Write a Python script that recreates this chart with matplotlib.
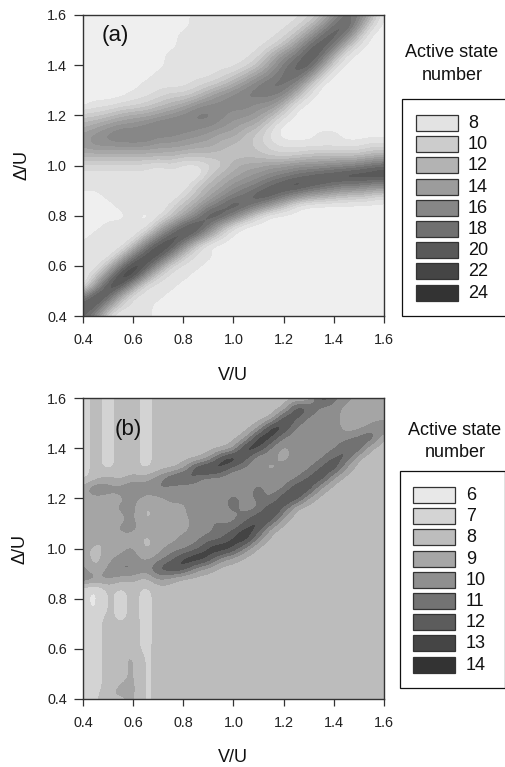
import numpy as np
import matplotlib
matplotlib.use("Agg")
import matplotlib.pyplot as plt
from matplotlib.colors import ListedColormap, BoundaryNorm
from matplotlib.patches import Rectangle

plt.rcParams["font.family"] = ["Liberation Sans", "DejaVu Sans"]

W, H = 506, 767
V_TICKS = [0.4, 0.6, 0.8, 1.0, 1.2, 1.4, 1.6]

# values: rows are delta/U = 1.60 .. 0.40 (step 0.04),
# columns are V/U = 0.40 .. 1.60 (step 0.05)
active_a = np.array([
    [7,7,7,7,7,7,7,7,7,8,8,8,8,8,8,8,8,8,9,11,15,18,17,12,7],
    [7,7,7,7,7,7,7,7,7,8,8,8,8,8,8,8,8,9,11,14,18,20,15,9,7],
    [7,7,7,7,7,7,7,7,8,8,8,8,8,8,8,8,9,11,14,18,20,17,11,7,7],
    [7,7,7,7,7,7,7,7,8,8,8,8,8,8,8,9,11,14,18,20,18,12,8,7,7],
    [7,7,7,7,7,7,7,8,8,8,8,8,8,8,9,12,15,17,20,19,13,8,7,7,7],
    [7,7,7,7,7,7,7,8,8,8,8,8,8,9,11,14,17,19,20,15,9,7,7,7,7],
    [7,7,7,7,7,7,8,8,8,8,8,9,10,12,14,16,18,19,16,10,7,7,7,7,7],
    [7,7,7,7,7,8,8,8,8,9,10,11,13,15,17,18,18,16,11,7,7,7,7,7,7],
    [7,7,7,7,8,8,9,10,10,11,13,15,16,17,17,17,16,12,8,7,7,7,7,7,7],
    [7,8,8,9,9,10,11,12,13,15,16,16,16,16,15,15,12,8,7,7,7,7,7,7,7],
    [10,10,11,12,13,13,14,15,16,17,17,16,15,15,14,12,9,7,7,7,7,7,7,7,7],
    [12,13,14,15,15,16,17,17,17,16,16,15,14,13,12,9,7,7,7,7,7,7,7,7,7],
    [14,15,16,17,17,17,16,16,15,15,14,13,13,11,10,8,7,7,7,8,8,7,7,7,7],
    [14,15,15,15,15,15,14,14,14,13,13,12,11,11,10,9,8,8,8,8,8,8,8,9,9],
    [12,12,12,12,12,12,12,12,11,11,11,11,11,11,11,10,10,10,11,11,11,11,11,12,12],
    [9,9,9,9,9,9,8,9,8,8,9,10,12,13,13,14,14,15,15,15,16,16,17,18,19],
    [8,8,8,8,8,8,8,8,8,7,10,12,13,14,15,16,17,18,19,20,20,21,21,21,21],
    [8,8,8,8,8,8,8,8,7,10,12,13,15,16,17,19,20,21,20,19,18,17,17,16,16],
    [7,7,8,8,8,8,8,7,9,11,13,15,17,18,20,20,18,16,14,13,12,11,11,10,9],
    [7,7,7,8,8,8,7,9,11,13,16,18,20,19,17,14,11,8,7,7,7,7,7,7,7],
    [7,7,7,7,8,7,8,10,13,16,20,20,17,13,9,7,7,7,7,7,7,7,7,7,7],
    [7,7,8,8,8,7,11,15,19,21,18,13,9,7,7,7,7,7,7,7,7,7,7,7,7],
    [7,8,8,8,7,11,16,20,21,18,13,9,7,7,7,7,7,7,7,7,7,7,7,7,7],
    [8,8,8,7,11,17,21,21,16,10,7,7,7,7,7,7,7,7,7,7,7,7,7,7,7],
    [8,8,7,11,17,21,21,16,10,8,8,7,7,7,7,7,7,7,7,7,7,7,7,7,7],
    [8,7,11,17,22,21,15,9,8,8,7,7,7,7,7,7,7,7,7,7,7,7,7,7,7],
    [7,10,16,22,22,15,9,8,8,7,7,7,7,7,7,7,7,7,7,7,7,7,7,7,7],
    [7,14,21,21,14,8,8,8,7,7,7,7,7,7,7,7,7,7,7,7,7,7,7,7,7],
    [16,21,20,13,8,8,8,7,7,7,7,7,7,7,7,7,7,7,7,7,7,7,7,7,7],
    [20,20,14,9,8,8,7,7,7,7,7,7,7,7,7,7,7,7,7,7,7,7,7,7,7],
    [19,16,9,7,8,8,7,7,7,7,7,7,7,7,7,7,7,7,7,7,7,7,7,7,7],
])

active_b = np.array([
    [7,8,7,8,8,7,8,8,8,8,8,8,8,8,8,8,8,8,8,13,11,10,9,9,9],
    [7,8,7,8,8,7,8,8,8,8,8,8,8,8,8,8,8,13,12,10,10,9,9,9,9],
    [7,8,7,8,8,7,8,8,8,8,8,8,8,8,8,8,13,12,10,10,10,9,9,9,9],
    [7,8,7,8,8,7,8,8,8,8,8,8,8,8,9,14,13,10,10,10,10,9,9,10,11],
    [7,8,7,8,8,7,8,8,8,8,8,8,8,9,14,13,10,10,9,10,10,10,11,12,8],
    [7,8,7,8,8,7,8,8,8,8,8,8,9,14,13,10,9,10,10,10,10,12,12,8,8],
    [7,8,7,8,8,7,8,8,8,8,9,13,14,12,9,10,9,10,10,10,12,12,8,8,8],
    [7,8,7,8,8,7,8,8,9,13,14,13,11,10,10,9,10,10,10,12,13,9,8,8,8],
    [7,8,9,8,9,9,10,12,13,11,10,10,9,10,10,10,10,10,12,13,9,8,8,8,8],
    [9,11,10,10,11,10,11,10,9,10,9,10,10,10,11,10,10,13,13,9,8,8,8,8,8],
    [9,9,9,9,10,9,9,10,10,9,11,10,11,10,11,10,13,13,9,8,8,8,8,8,8],
    [9,9,9,10,10,8,9,9,9,11,10,10,11,10,10,13,12,8,8,8,8,8,8,8,8],
    [9,9,8,9,10,8,9,9,9,10,11,10,10,11,13,13,9,8,8,8,8,8,8,8,8],
    [9,9,9,10,10,9,9,9,9,10,10,11,11,13,13,9,8,8,8,8,8,8,8,8,8],
    [9,9,8,9,9,8,9,9,10,10,11,11,13,14,10,8,8,8,8,8,8,8,8,8,8],
    [9,8,9,9,10,8,9,10,10,11,13,14,13,10,8,8,8,8,8,8,8,8,8,8,8],
    [9,8,9,10,10,9,10,11,13,14,13,10,9,8,8,8,8,8,8,8,8,8,8,8,8],
    [10,8,10,11,11,10,12,13,13,10,9,8,8,8,8,8,8,8,8,8,8,8,8,8,8],
    [11,10,10,9,9,8,10,9,8,8,8,8,8,8,8,8,8,8,8,8,8,8,8,8,8],
    [7,6,8,7,8,7,8,8,8,8,8,8,8,8,8,8,8,8,8,8,8,8,8,8,8],
    [7,6,8,7,8,7,8,8,8,8,8,8,8,8,8,8,8,8,8,8,8,8,8,8,8],
    [7,6,8,7,8,7,8,8,8,8,8,8,8,8,8,8,8,8,8,8,8,8,8,8,8],
    [7,7,8,7,8,7,8,8,8,8,8,8,8,8,8,8,8,8,8,8,8,8,8,8,8],
    [7,7,8,8,8,7,8,8,8,8,8,8,8,8,8,8,8,8,8,8,8,8,8,8,8],
    [7,7,8,8,8,7,8,8,8,8,8,8,8,8,8,8,8,8,8,8,8,8,8,8,8],
    [7,7,8,9,8,7,8,8,8,8,8,8,8,8,8,8,8,8,8,8,8,8,8,8,8],
    [7,7,8,8,9,7,8,8,8,8,8,8,8,8,8,8,8,8,8,8,8,8,8,8,8],
    [7,7,8,8,9,7,8,8,8,8,8,8,8,8,8,8,8,8,8,8,8,8,8,8,8],
    [7,7,8,8,9,7,8,8,8,8,8,8,8,8,8,8,8,8,8,8,8,8,8,8,8],
    [7,7,8,9,9,7,8,8,8,8,8,8,8,8,8,8,8,8,8,8,8,8,8,8,8],
    [7,7,9,8,9,7,8,8,8,8,8,8,8,8,8,8,8,8,8,8,8,8,8,8,8],
])

# legend keys, top to bottom, with the gray each one shows
keys_a = [8, 10, 12, 14, 16, 18, 20, 22, 24]
grays_a = [0.89, 0.80, 0.70, 0.61, 0.53, 0.44, 0.35, 0.27, 0.20]
keys_b = [6, 7, 8, 9, 10, 11, 12, 13, 14]
grays_b = [0.91, 0.83, 0.74, 0.65, 0.56, 0.45, 0.36, 0.27, 0.20]
low_a = {6: 0.97, 7: 0.94}


def make_cmap(keys, grays, extra):
    xs = list(extra) + keys
    ys = list(extra.values()) + grays
    vals = np.arange(xs[0], xs[-1] + 1)
    g = np.interp(vals, xs, ys)
    cmap = ListedColormap([(v, v, v) for v in g])
    norm = BoundaryNorm(np.append(vals - 0.5, vals[-1] + 0.5), cmap.N)
    return cmap, norm


def panel(fig, top, bottom, data, cmap, norm, label, label_xy, ylab_x, xlab_y):
    left, right = 83, 384
    ax = fig.add_axes([left / W, 1 - bottom / H, (right - left) / W, (bottom - top) / H])
    ax.imshow(data, cmap=cmap, norm=norm, extent=(0.375, 1.625, 0.38, 1.62),
              origin="upper", aspect="auto", interpolation="bicubic")
    ax.set_xlim(0.4, 1.6)
    ax.set_ylim(0.4, 1.6)
    ax.set_xticks(V_TICKS)
    ax.set_yticks(V_TICKS)
    ax.set_xticklabels([f"{t:.1f}" for t in V_TICKS])
    ax.set_yticklabels([f"{t:.1f}" for t in V_TICKS])
    ax.tick_params(axis="x", length=5, width=0.9, color="#333333", labelsize=10.4, pad=7,
                   labelcolor="#222222")
    ax.tick_params(axis="y", length=6.5, width=0.9, color="#333333", labelsize=10.4, pad=5,
                   labelcolor="#222222")
    for s in ax.spines.values():
        s.set_linewidth(1.0)
        s.set_color("#333333")
    fig.text(label_xy[0] / W, 1 - label_xy[1] / H, label, fontsize=16,
             ha="center", va="center", color="#111111")
    fig.text(233 / W, 1 - xlab_y / H, "V/U", fontsize=13, ha="center", va="center",
             color="#111111")
    fig.text(ylab_x / W, 1 - (top + bottom) / 2 / H, "\u0394/U", fontsize=13,
             rotation=90, ha="center", va="center", color="#111111")
    return ax


def key_box(over, keys, grays, box, swatch_x, first_y, text_x, title_xy):
    x0, y0, x1, y1 = box
    over.add_patch(Rectangle((x0, y0), x1 - x0, y1 - y0, fc="white", ec="#111111", lw=0.9))
    for i, k in enumerate(keys):
        y = first_y + i * 21.2
        g = grays[i]
        over.add_patch(Rectangle((swatch_x, y), 42, 16, fc=(g, g, g), ec="#333333", lw=0.9))
        over.text(text_x, y + 8.5, str(k), fontsize=13, ha="left", va="center", color="#111111")
    over.text(title_xy[0], title_xy[1], "Active state\nnumber", fontsize=13,
              ha="center", va="center", linespacing=1.4, color="#111111")


fig = plt.figure(figsize=(W / 100, H / 100), dpi=100)

cmap_a, norm_a = make_cmap(keys_a, grays_a, low_a)
cmap_b, norm_b = make_cmap(keys_b, grays_b, {})
panel(fig, 15, 316, active_a, cmap_a, norm_a, "(a)", (115, 35), 22, 375)
panel(fig, 398, 699, active_b, cmap_b, norm_b, "(b)", (128, 430), 20, 757)

over = fig.add_axes([0, 0, 1, 1])
over.set_xlim(0, W)
over.set_ylim(H, 0)
over.axis("off")
over.patch.set_alpha(0)
key_box(over, keys_a, grays_a, (402, 99, 512, 316), 416, 115, 468, (452, 64))
key_box(over, keys_b, grays_b, (400, 471, 505.5, 688), 413, 487, 466, (455, 441.5))

fig.savefig("out.png", dpi=100)
